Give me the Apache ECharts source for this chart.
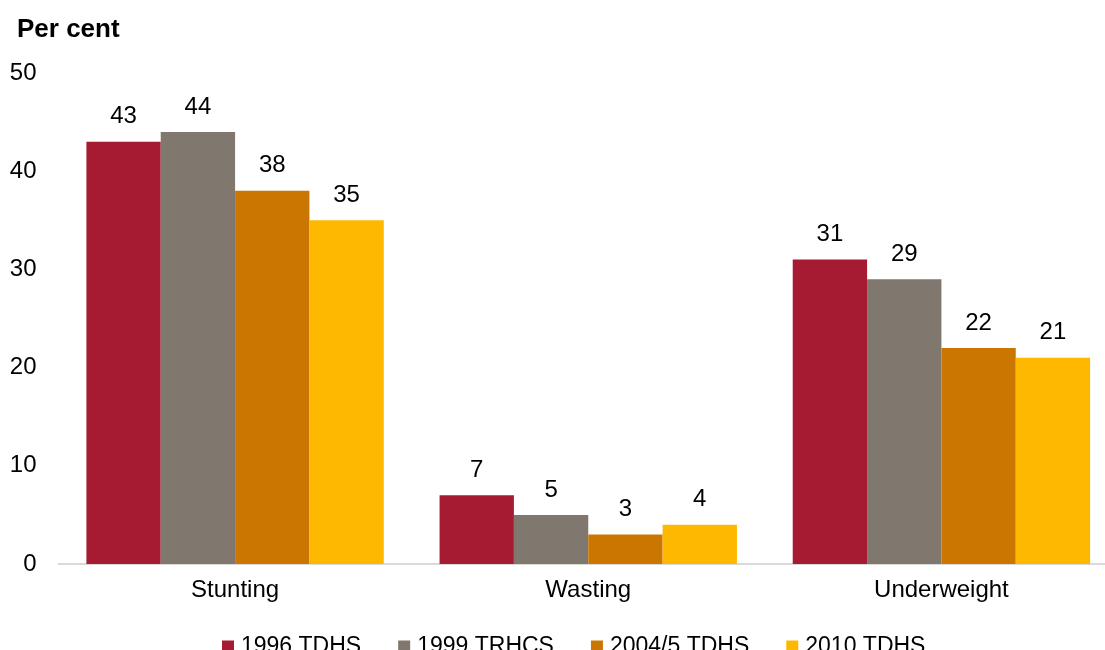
<!DOCTYPE html>
<html>
<head>
<meta charset="utf-8">
<title>Child malnutrition indicators</title>
<script src="https://cdn.jsdelivr.net/npm/echarts@6/dist/echarts.min.js"></script>
<style>
  html, body { margin: 0; padding: 0; background: #ffffff; width: 1105px; height: 650px; overflow: hidden; }
  /* the plot runs slightly past the right edge of the page */
  #chart { width: 1118px; height: 650px; }
</style>
</head>
<body>
<div id="chart"></div>
<script>
// Indicators shown along the x axis
const categories = ['Stunting', 'Wasting', 'Underweight'];

// Survey rounds (one bar series each)
const surveyNames = ['1996 TDHS', '1999 TRHCS', '2004/5 TDHS', '2010 TDHS'];

// Prevalence in per cent, per survey, in category order
const tdhs1996 = [43, 7, 31];
const trhcs1999 = [44, 5, 29];
const tdhs2004 = [38, 3, 22];
const tdhs2010 = [35, 4, 21];

// Y axis range
const yMin = 0;
const yMax = 50;
const yStep = 10;

const seriesValues = [tdhs1996, trhcs1999, tdhs2004, tdhs2010];
const seriesColors = ['#A61A32', '#80776E', '#CB7600', '#FFB800'];

const FONT = 'Liberation Sans, Arial, sans-serif';

const chart = echarts.init(document.getElementById('chart'), null, { renderer: 'canvas' });

chart.setOption({
  animation: false,
  backgroundColor: '#ffffff',
  title: {
    text: 'Per cent',
    left: 12,
    top: 12,
    textStyle: { fontFamily: FONT, fontSize: 26, fontWeight: 'bold', color: '#000000' }
  },
  legend: {
    data: surveyNames,
    left: 217,
    top: 630,
    itemWidth: 12,
    itemHeight: 12,
    itemGap: 37,
    icon: 'rect',
    textStyle: { fontFamily: FONT, fontSize: 23, color: '#000000', padding: [0, 0, 0, 2] }
  },
  grid: {
    left: 58.5,
    right: 0,
    top: 73,
    bottom: 86,
    containLabel: false
  },
  xAxis: {
    type: 'category',
    data: categories,
    axisLine: { show: true, lineStyle: { color: '#d9d9d9', width: 2 } },
    axisTick: { show: false },
    axisLabel: { fontFamily: FONT, fontSize: 24, color: '#000000', margin: 14 },
    splitLine: { show: false }
  },
  yAxis: {
    type: 'value',
    min: yMin,
    max: yMax,
    interval: yStep,
    axisLine: { show: false },
    axisTick: { show: false },
    axisLabel: { fontFamily: FONT, fontSize: 24, color: '#000000', margin: 22 },
    splitLine: { show: false }
  },
  series: surveyNames.map((name, i) => ({
    name: name,
    type: 'bar',
    data: seriesValues[i],
    barGap: '0%',
    barCategoryGap: '15.8%',
    itemStyle: { color: seriesColors[i] },
    label: {
      show: true,
      position: 'top',
      distance: 13,
      fontFamily: FONT,
      fontSize: 24,
      color: '#000000'
    }
  }))
});
</script>
</body>
</html>
